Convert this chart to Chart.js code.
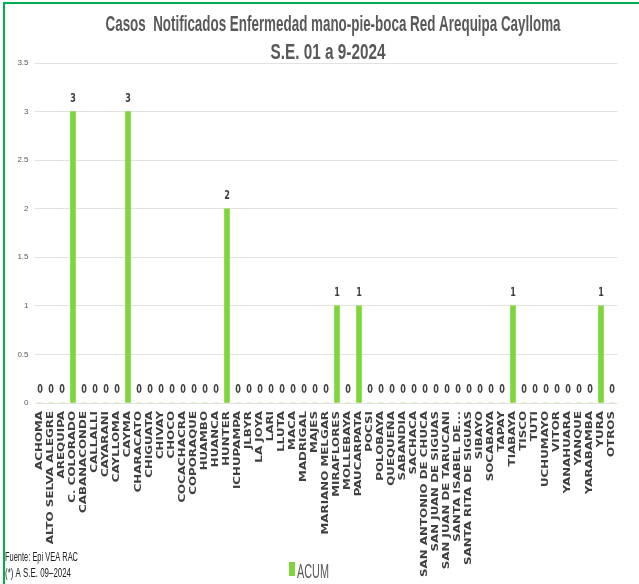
<!DOCTYPE html>
<html>
<head>
<meta charset="utf-8">
<script src="https://cdn.jsdelivr.net/npm/chart.js@4.4.1/dist/chart.umd.min.js"></script>
<style>
  html, body { margin: 0; padding: 0; background: #fff; }
  #wrap { position: relative; width: 639px; height: 584px; overflow: hidden; }
  #frame { position: absolute; left: 3px; top: 2px; width: 700px; height: 700px;
           border-top: 2px solid #00b050; border-left: 2px solid #00b050; }
  canvas { position: absolute; left: 0; top: 0; }
</style>
</head>
<body>
<div id="wrap">
  <div id="frame"></div>
  <canvas id="casosChart" width="639" height="584"></canvas>
</div>
<script>
const distritos = [
  'ACHOMA', 'ALTO SELVA ALEGRE', 'AREQUIPA', 'C. COLORADO', 'CABANACONDE', 'CALLALLI',
  'CAYARANI', 'CAYLLOMA', 'CAYMA', 'CHARACATO', 'CHIGUATA', 'CHIVAY', 'CHOCO',
  'COCACHACRA', 'COPORAQUE', 'HUAMBO', 'HUANCA', 'HUNTER', 'ICHUPAMPA', 'JLBYR',
  'LA JOYA', 'LARI', 'LLUTA', 'MACA', 'MADRIGAL', 'MAJES', 'MARIANO MELGAR',
  'MIRAFLORES', 'MOLLEBAYA', 'PAUCARPATA', 'POCSI', 'POLOBAYA', 'QUEQUEÑA', 'SABANDIA',
  'SACHACA', 'SAN ANTONIO DE CHUCA', 'SAN JUAN DE SIGUAS', 'SAN JUAN DE TARUCANI',
  'SANTA ISABEL DE...', 'SANTA RITA DE SIGUAS', 'SIBAYO', 'SOCABAYA', 'TAPAY', 'TIABAYA',
  'TISCO', 'TUTI', 'UCHUMAYO', 'VITOR', 'YANAHUARA', 'YANQUE', 'YARABAMBA', 'YURA', 'OTROS'
];

const acum = [
  0, 0, 0, 3, 0, 0,
  0, 0, 3, 0, 0, 0, 0,
  0, 0, 0, 0, 2, 0, 0,
  0, 0, 0, 0, 0, 0, 0,
  1, 0, 1, 0, 0, 0, 0,
  0, 0, 0, 0,
  0, 0, 0, 0, 0, 1,
  0, 0, 0, 0, 0, 0, 0, 1, 0
];

const tituloLineas = ['Casos  Notificados Enfermedad mano-pie-boca Red Arequipa Caylloma', 'S.E. 01 a 9-2024'];
const fuenteLineas = ['Fuente: Epi VEA RAC', '(*) A S.E. 09\u20132024'];
const serieNombre = 'ACUM';

const verde = '#7fd63b';
const narrow = '"Liberation Sans Narrow", "Liberation Sans", sans-serif';

// texto estirado en vertical como en la imagen original
function textoEstirado(ctx, txt, x, y, font, sy, color, align, ancho) {
  ctx.save();
  ctx.font = font;
  ctx.fillStyle = color;
  ctx.textBaseline = 'alphabetic';
  let sx = 1;
  if (ancho) sx = ancho / ctx.measureText(txt).width;
  ctx.translate(x, y);
  ctx.scale(sx, sy);
  ctx.textAlign = align;
  ctx.fillText(txt, 0, 0);
  ctx.restore();
}

const etiquetasPlugin = {
  id: 'etiquetas',
  afterDatasetsDraw(chart) {
    const ctx = chart.ctx;
    const meta = chart.getDatasetMeta(0);
    ctx.save();
    ctx.font = 'bold 9px "DejaVu Sans Condensed", "DejaVu Sans", sans-serif';
    ctx.fillStyle = '#404040';
    ctx.textAlign = 'center';
    ctx.textBaseline = 'middle';
    meta.data.forEach((bar, i) => {
      ctx.save();
      ctx.translate(bar.x, bar.y - 13);
      ctx.scale(1, 1.3);
      ctx.fillText(acum[i], 0, 0);
      ctx.restore();
    });
    ctx.restore();
  },
  afterDraw(chart) {
    const ctx = chart.ctx;
    const xScale = chart.scales.x;

    // nombres de distritos, girados y estirados a lo largo del texto
    ctx.save();
    ctx.font = 'bold 8px "DejaVu Sans", sans-serif';
    const sx = 166 / ctx.measureText('SAN ANTONIO DE CHUCA').width;
    ctx.fillStyle = '#404040';
    ctx.textAlign = 'right';
    ctx.textBaseline = 'middle';
    distritos.forEach((nombre, i) => {
      ctx.save();
      ctx.translate(xScale.getPixelForTick(i), xScale.top + 8);
      ctx.rotate(-Math.PI / 2);
      ctx.scale(sx, 1);
      ctx.fillText(nombre, 0, 0);
      ctx.restore();
    });
    ctx.restore();

    textoEstirado(ctx, tituloLineas[0], 333, 31, 'bold 15px ' + narrow, 1.5, '#595959', 'center', 455);
    textoEstirado(ctx, tituloLineas[1], 328, 59, 'bold 15px ' + narrow, 1.5, '#595959', 'center', 115);

    // leyenda
    ctx.save();
    ctx.fillStyle = verde;
    ctx.fillRect(289, 562, 6, 14);
    ctx.restore();
    textoEstirado(ctx, serieNombre, 297, 578, '14px ' + narrow, 1.4, '#595959', 'left', 32);

    textoEstirado(ctx, fuenteLineas[0], 5, 561, '10px ' + narrow, 1.3, '#222', 'left', 73);
    textoEstirado(ctx, fuenteLineas[1], 5, 577, '10px ' + narrow, 1.3, '#222', 'left', 66);
  }
};

new Chart(document.getElementById('casosChart'), {
  type: 'bar',
  data: {
    labels: distritos,
    datasets: [{
      label: serieNombre,
      data: acum,
      backgroundColor: verde,
      borderWidth: 0,
      barThickness: 5
    }]
  },
  options: {
    responsive: false,
    animation: false,
    devicePixelRatio: 1,
    layout: { padding: { top: 63, right: 21.5, left: 0, bottom: 0 } },
    plugins: {
      legend: { display: false },
      title: { display: false },
      tooltip: { enabled: false }
    },
    scales: {
      x: {
        grid: { display: false },
        border: { display: false },
        ticks: { display: false, autoSkip: false },
        afterFit(scale) { scale.height = 181; }
      },
      y: {
        min: 0,
        max: 3.5,
        grid: { color: '#e2e2e2', drawTicks: false },
        border: { display: false },
        ticks: {
          stepSize: 0.5,
          padding: 6,
          color: '#595959',
          font: { family: narrow, size: 8 },
          callback: v => String(v)
        },
        afterFit(scale) { scale.width = 34.5; }
      }
    }
  },
  plugins: [etiquetasPlugin]
});
</script>
</body>
</html>
